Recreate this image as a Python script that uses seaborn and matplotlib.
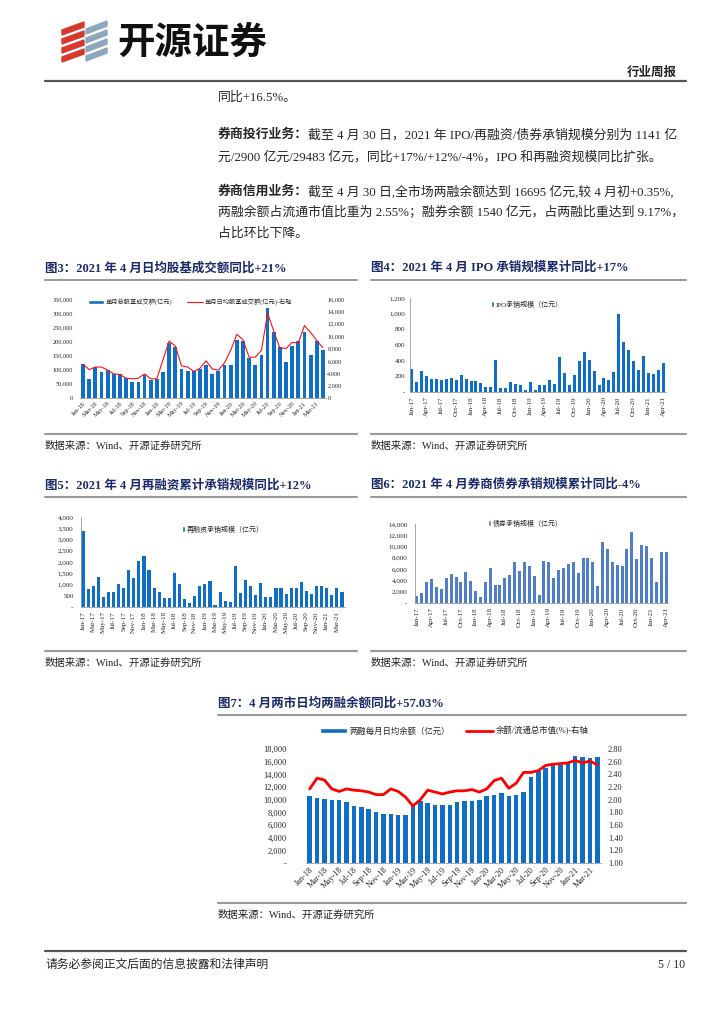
import numpy as np
import pandas as pd
import matplotlib
matplotlib.use("Agg")
import matplotlib.pyplot as plt
from matplotlib.patches import Patch, Polygon
from matplotlib.lines import Line2D
from matplotlib.ticker import FuncFormatter, MultipleLocator
import seaborn as sns

sns.set_style("white")
plt.rcParams["font.family"] = ["Liberation Serif", "Noto Sans CJK SC"]
plt.rcParams["axes.unicode_minus"] = False

W, H = 724, 1024

# ---- data ----
months_18 = pd.date_range("2018-01-01", periods=40, freq="MS").strftime("%b-%y").tolist()
months_17 = pd.date_range("2017-01-01", periods=52, freq="MS").strftime("%b-%y").tolist()

# fig 3: monthly stock+fund turnover (亿元) and daily average (right axis)
turnover_total = [120000, 68000, 110000, 92000, 100000, 86000, 85000, 71000, 57000, 58000,
                  83000, 62000, 68000, 93000, 195000, 180000, 104000, 94000, 97000, 104000,
                  118000, 84000, 94000, 118000, 118000, 206000, 203000, 140000, 118000, 153000,
                  318000, 234000, 180000, 126000, 185000, 203000, 232000, 153000, 203000, 170000]
turnover_daily = [5400, 4600, 5000, 5000, 4500, 3900, 3800, 3200, 3100, 3200,
                  3900, 3100, 3100, 6200, 9200, 8400, 5200, 5000, 4300, 4800,
                  6000, 4700, 4500, 5700, 7700, 10300, 9400, 6600, 6600, 7700,
                  13700, 10800, 8100, 8000, 9000, 8900, 11700, 10600, 9300, 8100]

# fig 4: IPO underwriting (亿元)
ipo_amount = [294, 128, 264, 208, 170, 170, 149, 166, 183, 157, 221, 166, 136,
              145, 119, 60, 64, 408, 55, 47, 128, 98, 89, 30, 128, 30,
              89, 89, 157, 106, 443, 247, 94, 221, 396, 511, 413, 268, 94,
              179, 157, 260, 1000, 634, 532, 396, 285, 460, 247, 226, 285, 374]

# fig 5: refinancing underwriting (亿元)
refin_amount = [3358, 791, 925, 1328, 433, 657, 657, 1015, 836, 1642, 1284, 2045, 2269,
                1642, 836, 657, 388, 388, 1507, 1015, 358, 164, 478, 955, 1015, 1149,
                104, 657, 269, 239, 1836, 627, 1194, 925, 522, 1060, 463, 433, 866,
                836, 597, 836, 866, 1090, 731, 597, 955, 925, 866, 522, 866, 657]

# fig 6: bond underwriting (亿元)
bond_amount = [1290, 1710, 3710, 4240, 2880, 2530, 4410, 5180, 4590, 3710, 5530, 3940, 2180,
               1120, 3770, 6120, 3180, 3240, 4470, 4940, 7290, 5710, 7290, 6530, 4820, 1470,
               7470, 7180, 4470, 5880, 6240, 6940, 7290, 5350, 8000, 8000, 7180, 3060, 10820,
               9590, 7180, 6770, 6530, 9590, 12590, 7820, 10350, 10060, 8000, 3650, 9000, 9000]

# fig 7: margin balance (亿元) and balance / float market cap (%)
margin_balance = [10590, 10220, 10060, 9900, 9900, 9640, 9000, 8790, 8470, 8050,
                  7730, 7730, 7520, 7520, 9000, 9800, 9420, 9160, 9160, 9160,
                  9640, 9800, 9800, 9950, 10540, 10750, 11010, 10590, 10700, 11220,
                  13550, 14450, 15030, 15500, 15500, 15880, 16940, 16730, 16570, 16730]
margin_ratio = [2.17, 2.34, 2.31, 2.17, 2.13, 2.17, 2.15, 2.14, 2.12, 2.08,
                2.08, 2.17, 2.13, 2.04, 1.90, 2.00, 2.15, 2.12, 2.09, 2.12,
                2.14, 2.14, 2.16, 2.12, 2.17, 2.30, 2.34, 2.18, 2.26, 2.43,
                2.43, 2.46, 2.54, 2.56, 2.57, 2.58, 2.62, 2.58, 2.61, 2.55]

BLUE = "#0F6FC6"
STEEL = "#4E7FC8"
NAVY = "#1B2A6B"
GRID_GRAY = "#9A9A9A"

fig = plt.figure(figsize=(W / 100, H / 100), dpi=100)
renderer = fig.canvas.get_renderer()


def fx(x):
    return x / W


def fy(y):
    return 1 - y / H


def px_rect(l, t, r, b):
    return [l / W, 1 - b / H, (r - l) / W, (b - t) / H]


def hline(x0, x1, y, color=GRID_GRAY, lw=1.5):
    fig.add_artist(Line2D([fx(x0), fx(x1)], [fy(y), fy(y)], color=color, lw=lw))


def put_runs(x, y, runs, size=9.3):
    for s, weight in runs:
        t = fig.text(fx(x), fy(y), s, fontsize=size, weight=weight, va="center", ha="left")
        x += t.get_window_extent(renderer=renderer).width


def num_fmt(dash=True, decimals=0):
    def f(v, pos):
        if dash and abs(v) < 1e-9:
            return "-"
        return f"{v:,.{decimals}f}"
    return FuncFormatter(f)


def style_axis(ax, left_spine=True, bottom_spine=True):
    for side in ["top", "right", "left", "bottom"]:
        ax.spines[side].set_visible(False)
    if left_spine:
        ax.spines["left"].set_visible(True)
        ax.spines["left"].set_color(GRID_GRAY)
        ax.spines["left"].set_linewidth(0.6)
    if bottom_spine:
        ax.spines["bottom"].set_visible(True)
        ax.spines["bottom"].set_color(GRID_GRAY)
        ax.spines["bottom"].set_linewidth(0.6)
    ax.set_xlabel("")
    ax.set_ylabel("")
    ax.grid(False)


def add_legend(ax, handles, labels, x, y, size, ncol=1, colsp=2.0, hl=1.0, hh=0.7):
    ax.legend(handles, labels, loc="center left", bbox_to_anchor=(fx(x), fy(y)),
              bbox_transform=fig.transFigure, frameon=False, fontsize=size, ncol=ncol,
              handlelength=hl, handleheight=hh, handletextpad=0.3, columnspacing=colsp,
              borderpad=0, borderaxespad=0)


# ---- header ----
red_logo = "#D8372C"
blue_logo = "#8DA7BE"
for k in range(4):
    fig.add_artist(Polygon([(fx(62), fy(30 + 9 * k)), (fx(84), fy(22 + 9 * k)),
                            (fx(84), fy(27 + 9 * k)), (fx(62), fy(35 + 9 * k))],
                           closed=True, color=red_logo, transform=fig.transFigure))
    fig.add_artist(Polygon([(fx(86), fy(29 + 9 * k)), (fx(107), fy(21 + 9 * k)),
                            (fx(107), fy(26 + 9 * k)), (fx(86), fy(34 + 9 * k))],
                           closed=True, color=blue_logo, transform=fig.transFigure))
fig.text(fx(117), fy(42), "开源证券", fontsize=27, weight="bold", va="center", ha="left",
         family=["Noto Sans CJK SC"], color="#111111")
fig.text(fx(677), fy(73), "行业周报", fontsize=9, weight="bold", va="center", ha="right")
hline(45, 686, 81, color="#555555", lw=1.6)

# ---- body text ----
put_runs(218, 98, [("同比+16.5%。", "normal")])
put_runs(218, 135, [("券商投行业务：", "bold"),
                    ("截至 4 月 30 日，2021 年 IPO/再融资/债券承销规模分别为 1141 亿", "normal")])
put_runs(218, 157, [("元/2900 亿元/29483 亿元，同比+17%/+12%/-4%，IPO 和再融资规模同比扩张。", "normal")])
put_runs(218, 192, [("券商信用业务：", "bold"),
                    ("截至 4 月 30 日,全市场两融余额达到 16695 亿元,较 4 月初+0.35%,", "normal")])
put_runs(218, 213, [("两融余额占流通市值比重为 2.55%；融券余额 1540 亿元，占两融比重达到 9.17%，", "normal")])
put_runs(218, 234, [("占比环比下降。", "normal")])

# ---- figure titles, rules and sources ----
def fig_title(x0, x1, y, text):
    fig.text(fx(x0), fy(y), text, fontsize=9, weight="bold", color=NAVY, va="center", ha="left")
    hline(x0, x1, y + 12)


def fig_source(x0, x1, y):
    hline(x0, x1, y - 12)
    fig.text(fx(x0), fy(y), "数据来源：Wind、开源证券研究所", fontsize=7.5, va="center", ha="left")


fig_title(45, 357, 268, "图3：2021 年 4 月日均股基成交额同比+21%")
fig_title(371, 686, 268, "图4：2021 年 4 月 IPO 承销规模累计同比+17%")
fig_title(45, 357, 485, "图5：2021 年 4 月再融资累计承销规模同比+12%")
fig_title(371, 686, 485, "图6：2021 年 4 月券商债券承销规模累计同比-4%")
fig_title(218, 686, 703, "图7：4 月两市日均两融余额同比+57.03%")
fig_source(45, 357, 446)
fig_source(371, 686, 446)
fig_source(45, 357, 663)
fig_source(371, 686, 663)
fig_source(218, 686, 915)

bar_kw = dict(saturation=1, linewidth=0, edgecolor="none")

# ---- fig 3 ----
ax3 = fig.add_axes(px_rect(80, 299, 326, 398))
sns.barplot(x=months_18, y=turnover_total, ax=ax3, color=BLUE, width=0.62, **bar_kw)
ax3b = ax3.twinx()
sns.lineplot(x=np.arange(len(turnover_daily)), y=turnover_daily, ax=ax3b, color="#FF1010", lw=0.8)
ax3.set_xlim(-0.5, len(months_18) - 0.5)
ax3.set_ylim(0, 350000)
ax3b.set_ylim(0, 16000)
ax3.yaxis.set_major_locator(MultipleLocator(50000))
ax3b.yaxis.set_major_locator(MultipleLocator(2000))
ax3.yaxis.set_major_formatter(num_fmt(dash=False))
ax3b.yaxis.set_major_formatter(num_fmt(dash=False))
style_axis(ax3, left_spine=False, bottom_spine=True)
style_axis(ax3b, left_spine=False, bottom_spine=False)
ax3.set_xticks(range(0, 40, 2))
ax3.set_xticklabels(months_18[::2], rotation=45, ha="right", rotation_mode="anchor", fontsize=4.5)
ax3.tick_params(axis="x", length=0, pad=2)
ax3.tick_params(axis="y", length=0, pad=5, labelsize=4.5)
ax3b.tick_params(axis="y", length=0, pad=1, labelsize=4.5)
add_legend(ax3b, [Patch(facecolor=BLUE), Line2D([0], [0], color="#FF1010", lw=0.8)],
           ["单月总股基成交额(亿元)", "单月日均股基成交额(亿元)-右轴"],
           88, 302, 4.5, ncol=2, colsp=2.2, hl=2.6, hh=0.5)

# ---- fig 4 ----
ax4 = fig.add_axes(px_rect(409.5, 298, 665.5, 392))
sns.barplot(x=months_17, y=ipo_amount, ax=ax4, color=BLUE, width=0.6, **bar_kw)
ax4.set_ylim(0, 1200)
ax4.yaxis.set_major_locator(MultipleLocator(200))
ax4.yaxis.set_major_formatter(num_fmt())
style_axis(ax4)
ax4.set_xticks(range(0, 52, 3))
ax4.set_xticklabels(months_17[::3], rotation=90, ha="center", fontsize=5)
ax4.tick_params(axis="x", length=2, width=0.5, color=GRID_GRAY, pad=1)
ax4.tick_params(axis="y", length=0, pad=3, labelsize=5)
add_legend(ax4, [Patch(facecolor=BLUE)], ["IPO承销规模（亿元）"], 491, 304, 5, hl=0.45, hh=0.8)

# ---- fig 5 ----
ax5 = fig.add_axes(px_rect(80.5, 517, 344.5, 607))
sns.barplot(x=months_17, y=refin_amount, ax=ax5, color=BLUE, width=0.62, **bar_kw)
ax5.set_ylim(0, 4000)
ax5.yaxis.set_major_locator(MultipleLocator(500))
ax5.yaxis.set_major_formatter(num_fmt())
style_axis(ax5)
ax5.set_xticks(range(0, 52, 2))
ax5.set_xticklabels(months_17[::2], rotation=90, ha="center", fontsize=5)
ax5.tick_params(axis="x", length=2, width=0.5, color=GRID_GRAY, pad=1)
ax5.tick_params(axis="y", length=0, pad=5, labelsize=5)
add_legend(ax5, [Patch(facecolor=BLUE)], ["再融资承销规模（亿元）"], 182, 529, 5, hl=0.45, hh=0.8)

# ---- fig 6 ----
ax6 = fig.add_axes(px_rect(414.5, 524, 668.5, 603))
sns.barplot(x=months_17, y=bond_amount, ax=ax6, color=STEEL, width=0.62, **bar_kw)
ax6.set_ylim(0, 14000)
ax6.yaxis.set_major_locator(MultipleLocator(2000))
ax6.yaxis.set_major_formatter(num_fmt())
style_axis(ax6)
ax6.set_xticks(range(0, 52, 3))
ax6.set_xticklabels(months_17[::3], rotation=90, ha="center", fontsize=5)
ax6.tick_params(axis="x", length=2, width=0.5, color=GRID_GRAY, pad=1)
ax6.tick_params(axis="y", length=0, pad=5, labelsize=5)
add_legend(ax6, [Patch(facecolor=STEEL)], ["债券承销规模（亿元）"], 488, 523, 5, hl=0.45, hh=0.8)

# ---- fig 7 ----
ax7 = fig.add_axes(px_rect(306, 749, 601, 863))
sns.barplot(x=months_18, y=margin_balance, ax=ax7, color=BLUE, width=0.6, **bar_kw)
ax7b = ax7.twinx()
sns.lineplot(x=np.arange(len(margin_ratio)), y=margin_ratio, ax=ax7b, color="#FF0000", lw=2)
ax7.set_xlim(-0.5, len(months_18) - 0.5)
ax7.set_ylim(0, 18000)
ax7b.set_ylim(1.0, 2.8)
ax7.yaxis.set_major_locator(MultipleLocator(2000))
ax7b.yaxis.set_major_locator(MultipleLocator(0.2))
ax7.yaxis.set_major_formatter(num_fmt())
ax7b.yaxis.set_major_formatter(num_fmt(dash=False, decimals=2))
style_axis(ax7, left_spine=False, bottom_spine=True)
style_axis(ax7b, left_spine=False, bottom_spine=False)
ax7.set_xticks(range(0, 40, 2))
ax7.set_xticklabels(months_18[::2], rotation=45, ha="right", rotation_mode="anchor", fontsize=6)
ax7.tick_params(axis="x", length=0, pad=2)
ax7.tick_params(axis="y", length=0, pad=14, labelsize=6)
ax7b.tick_params(axis="y", length=0, pad=5, labelsize=6)
add_legend(ax7b, [Patch(facecolor=BLUE), Line2D([0], [0], color="#FF0000", lw=2)],
           ["两融每月日均余额（亿元）", "余额/流通总市值(%)-右轴"],
           320, 731, 6, ncol=2, colsp=2.0, hl=3.2, hh=0.5)

# ---- footer ----
hline(45, 686, 951, color="#555555", lw=1.6)
fig.text(fx(45), fy(965), "请务必参阅正文后面的信息披露和法律声明", fontsize=8.5, va="center", ha="left")
fig.text(fx(685), fy(965), "5 / 10", fontsize=8.5, va="center", ha="right")

fig.savefig("out.png", dpi=100)
